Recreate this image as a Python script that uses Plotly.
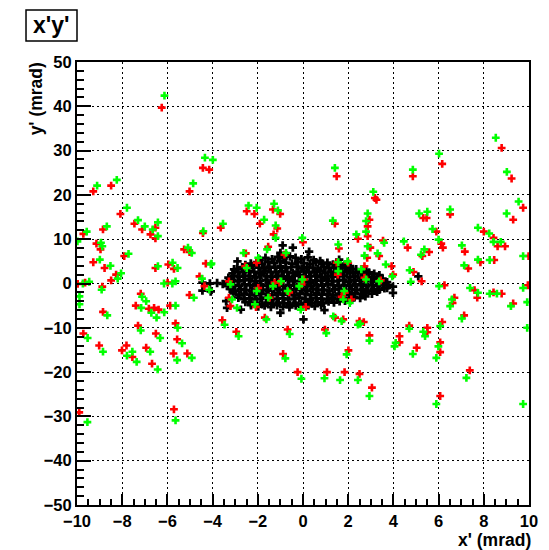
import plotly.graph_objects as go

# Beam divergence distribution x' vs y' (mrad)
x_ticks = [-10, -8, -6, -4, -2, 0, 2, 4, 6, 8, 10]
y_ticks = [-50, -40, -30, -20, -10, 0, 10, 20, 30, 40, 50]

# Core beam (black)
black_points = [
    (-1.92, 5.4), (-1.66, 5.8), (-1.37, 5.5), (-1.12, 6.0), (-0.86, 5.7), (-0.58, 6.1), (-0.33, 5.8), (-0.07, 5.5),
    (0.21, 5.9), (0.47, 5.3), (0.76, 5.1),
    (-2.55, 4.2), (-2.31, 4.5), (-2.04, 4.8), (-1.80, 4.4), (-1.54, 4.9), (-1.27, 4.6), (-1.01, 5.0), (-0.75, 4.7),
    (-0.49, 4.5), (-0.22, 4.9), (0.04, 4.6), (0.30, 4.4), (0.56, 4.8), (0.83, 4.5), (1.08, 4.7), (1.33, 4.3),
    (1.59, 4.5), (1.84, 4.1), (2.08, 3.9),
    (-2.92, 3.3), (-2.69, 3.7), (-2.44, 3.5), (-2.21, 3.9), (-1.96, 3.6), (-1.72, 3.4), (-1.49, 3.8), (-1.24, 3.6),
    (-1.00, 3.9), (-0.77, 3.5), (-0.52, 3.7), (-0.28, 3.8), (-0.05, 3.4), (0.19, 3.7), (0.43, 3.6), (0.66, 3.3),
    (0.91, 3.8), (1.14, 3.5), (1.39, 3.6), (1.62, 3.7), (1.87, 3.4), (2.10, 3.5), (2.35, 3.2), (2.58, 3.1), (2.80, 2.9),
    (-3.12, 2.3), (-2.87, 2.7), (-2.64, 2.5), (-2.39, 2.8), (-2.16, 2.6), (-1.90, 2.4), (-1.67, 2.9), (-1.43, 2.6),
    (-1.18, 2.5), (-0.94, 2.8), (-0.70, 2.6), (-0.45, 2.4), (-0.22, 2.7), (0.03, 2.9), (0.27, 2.5), (0.51, 2.6),
    (0.75, 2.8), (0.99, 2.4), (1.23, 2.7), (1.48, 2.5), (1.71, 2.6), (1.96, 2.8), (2.20, 2.4), (2.44, 2.6),
    (2.67, 2.3), (2.92, 2.5), (3.15, 2.2), (3.38, 1.9),
    (-3.30, 1.3), (-3.06, 1.7), (-2.81, 1.5), (-2.57, 1.8), (-2.33, 1.6), (-2.08, 1.4), (-1.84, 1.9), (-1.59, 1.6),
    (-1.35, 1.5), (-1.10, 1.8), (-0.86, 1.6), (-0.62, 1.4), (-0.37, 1.7), (-0.13, 1.9), (0.12, 1.5), (0.36, 1.6),
    (0.61, 1.8), (0.85, 1.4), (1.10, 1.7), (1.34, 1.5), (1.59, 1.6), (1.83, 1.8), (2.08, 1.4), (2.32, 1.6),
    (2.57, 1.3), (2.81, 1.5), (3.06, 1.2), (3.30, 1.4), (3.52, 1.1),
    (-3.36, 0.4), (-3.12, 0.8), (-2.88, 0.5), (-2.63, 0.7), (-2.39, 0.9), (-2.14, 0.5), (-1.90, 0.6), (-1.65, 0.8),
    (-1.41, 0.4), (-1.16, 0.7), (-0.92, 0.6), (-0.67, 0.9), (-0.43, 0.5), (-0.18, 0.6), (0.06, 0.8), (0.31, 0.4),
    (0.55, 0.7), (0.80, 0.6), (1.04, 0.9), (1.29, 0.5), (1.53, 0.6), (1.78, 0.8), (2.02, 0.4), (2.27, 0.7),
    (2.51, 0.6), (2.76, 0.5), (3.00, 0.8), (3.25, 0.4), (3.49, 0.6), (3.72, 0.3),
    (-3.32, -0.6), (-3.07, -0.3), (-2.83, -0.5), (-2.58, -0.2), (-2.34, -0.4), (-2.09, -0.6), (-1.85, -0.3),
    (-1.60, -0.5), (-1.36, -0.2), (-1.11, -0.4), (-0.87, -0.6), (-0.62, -0.3), (-0.38, -0.5), (-0.13, -0.2),
    (0.11, -0.4), (0.36, -0.6), (0.60, -0.3), (0.85, -0.5), (1.09, -0.2), (1.34, -0.4), (1.58, -0.6), (1.83, -0.3),
    (2.07, -0.5), (2.32, -0.2), (2.56, -0.4), (2.81, -0.6), (3.05, -0.3), (3.30, -0.5), (3.54, -0.2), (3.78, -0.4),
    (3.98, -0.7),
    (-3.24, -1.2), (-3.00, -1.6), (-2.75, -1.3), (-2.51, -1.5), (-2.26, -1.7), (-2.02, -1.3), (-1.77, -1.4),
    (-1.53, -1.6), (-1.28, -1.2), (-1.04, -1.5), (-0.79, -1.4), (-0.55, -1.7), (-0.30, -1.3), (-0.06, -1.4),
    (0.19, -1.6), (0.43, -1.2), (0.68, -1.5), (0.92, -1.4), (1.17, -1.7), (1.41, -1.3), (1.66, -1.4), (1.90, -1.6),
    (2.15, -1.2), (2.39, -1.5), (2.64, -1.3), (2.88, -1.6), (3.13, -1.2), (3.37, -1.4), (3.60, -1.1),
    (-3.08, -2.2), (-2.83, -2.6), (-2.59, -2.3), (-2.34, -2.5), (-2.10, -2.7), (-1.85, -2.3), (-1.61, -2.4),
    (-1.36, -2.6), (-1.12, -2.2), (-0.87, -2.5), (-0.63, -2.4), (-0.38, -2.7), (-0.14, -2.3), (0.11, -2.4),
    (0.35, -2.6), (0.60, -2.2), (0.84, -2.5), (1.09, -2.4), (1.33, -2.7), (1.58, -2.3), (1.82, -2.4), (2.07, -2.6),
    (2.31, -2.2), (2.56, -2.4), (2.80, -2.1), (3.05, -2.3), (3.28, -1.9),
    (-2.86, -3.2), (-2.62, -3.5), (-2.37, -3.3), (-2.13, -3.6), (-1.88, -3.4), (-1.64, -3.2), (-1.39, -3.6),
    (-1.15, -3.4), (-0.90, -3.3), (-0.66, -3.6), (-0.41, -3.4), (-0.17, -3.2), (0.08, -3.5), (0.32, -3.7),
    (0.57, -3.3), (0.81, -3.4), (1.06, -3.6), (1.30, -3.2), (1.55, -3.5), (1.79, -3.3), (2.04, -3.4), (2.28, -3.1),
    (2.53, -3.3), (2.76, -2.9),
    (-2.55, -4.2), (-2.30, -4.5), (-2.06, -4.3), (-1.81, -4.7), (-1.57, -4.4), (-1.32, -4.6), (-1.08, -4.3),
    (-0.83, -4.5), (-0.59, -4.8), (-0.34, -4.4), (-0.10, -4.6), (0.15, -4.3), (0.39, -4.5), (0.64, -4.2),
    (0.88, -4.4), (1.13, -4.1), (1.37, -4.3), (1.62, -4.0), (1.86, -3.9), (2.10, -3.8),
    (-2.30, -4.9), (-1.98, -5.2), (-1.70, -5.0), (-1.42, -5.3), (-1.15, -4.9), (-0.88, -5.2), (-0.60, -5.4),
    (-0.32, -5.0), (-0.05, -5.2), (0.24, -4.9), (0.52, -5.1), (0.80, -4.8),
    (-0.90, 8.6), (-0.45, 8.1), (0.27, 7.2), (-2.90, 5.0), (-1.00, 6.9), (-0.75, 6.4), (-4.45, 0.2), (-4.12, 0.0),
    (-3.80, 0.1), (-3.55, -0.1), (-4.45, -1.6), (-4.08, -1.8), (-1.00, -6.6), (0.02, -8.1), (-2.75, -5.9),
    (-3.36, -5.5), (3.98, -2.1), (3.72, -1.0), (5.10, 1.6), (0.95, -6.0), (-3.40, -4.0), (1.60, 5.4), (-3.05, 3.2),
]

# Red population
red_points = [
    (-6.25, 39.7),
    (-4.43, 26.1), (-4.15, 25.7), (-9.28, 20.8), (-8.49, 22.1), (-5.02, 20.8), (-8.08, 15.7), (-2.49, 16.3),
    (-2.15, 15.7), (-1.33, 16.7), (-1.01, 15.7), (-1.91, 13.5), (-1.14, 12.4), (1.41, 13.5), (1.49, 24.2),
    (-7.46, 13.5), (-7.12, 12.2), (-6.53, 12.6), (-6.75, 11.1), (-6.53, 10.2), (-8.85, 12.2), (-9.72, 11.2),
    (-9.14, 9.0), (-8.96, 7.7), (-9.28, 4.8), (-8.78, 3.5), (-7.91, 6.2), (-8.27, 2.0), (-8.49, 0.7), (-9.97, -0.1),
    (-9.64, 0.2), (-8.88, -0.7), (-6.53, 3.5), (-5.96, 4.3), (-5.71, 3.3), (-5.26, 7.7), (-5.02, 7.1), (-4.43, 11.4),
    (-4.30, 4.5), (-4.58, 1.6), (-3.64, 12.6), (-5.99, 0.2), (-7.18, -2.3), (-7.40, -5.0), (-6.82, -5.7),
    (-6.59, -5.5), (-6.39, -5.9), (-5.88, -5.0), (-5.02, -2.6), (-8.85, -6.4), (-2.53, 6.8),
    (-9.72, -11.3), (-7.30, -9.5), (-6.51, -11.3), (-5.64, -9.0), (-5.57, -12.6), (-9.02, -14.0), (-8.01, -15.1),
    (-7.81, -14.0), (-7.55, -16.6), (-6.94, -14.5), (-6.68, -18.1), (-5.73, -15.8), (-5.12, -15.8), (-9.90, -29.1),
    (-5.71, -28.4), (-3.57, -8.3), (-2.95, -10.9),
    (-0.68, -10.4), (0.97, -10.4), (-0.88, -15.9), (2.01, -15.1), (-0.24, -20.0), (1.06, -20.0), (1.84, -20.0),
    (2.50, -20.4),
    (2.69, -8.7), (2.94, -11.7), (4.70, -9.5), (5.50, -10.0), (5.50, -11.0), (4.27, -11.9), (4.27, -13.3),
    (5.03, -14.5), (6.16, -8.7), (6.07, -13.3), (6.07, -15.5), (7.13, -7.2), (9.30, -4.5), (6.62, -4.4),
    (7.38, -19.6), (3.05, -23.5), (6.07, -25.4),
    (8.79, 30.6), (6.16, 27.0), (4.86, 24.2), (9.23, 23.7), (3.18, 19.3), (3.25, 18.9), (9.74, 17.1), (5.32, 14.8),
    (5.47, 14.8), (6.51, 15.6), (9.30, 14.4), (2.94, 14.4), (2.86, 12.9), (5.90, 11.7), (8.00, 11.7), (8.43, 10.3),
    (2.86, 10.7), (2.43, 10.1), (4.63, 8.1), (6.12, 9.0), (6.19, 8.1), (7.16, 7.2), (8.61, 8.4), (8.94, 8.4),
    (2.98, 8.1), (3.54, 9.7), (5.58, 7.1), (5.28, 6.2), (2.84, 5.8), (3.37, 6.2), (7.85, 4.8), (8.46, 5.3),
    (9.98, 6.2), (7.31, 3.4), (3.92, 3.9), (4.89, 2.6), (5.25, 0.5), (6.26, -0.4), (7.59, -1.5), (7.71, -3.2),
    (8.43, -2.0), (8.79, -2.3), (9.95, -0.4), (6.70, -3.2),
    (-1.30, 11.1), (0.00, 9.3), (-1.54, 8.3), (-0.82, 6.5), (1.59, 7.9), (2.00, 4.7), (1.49, 4.7), (-2.05, 4.7),
    (-2.56, 3.9), (-4.36, -0.6), (-3.28, 0.5), (-1.04, 0.2), (-1.26, 0.2), (0.04, 0.9), (-0.06, -0.2),
    (-0.61, -2.0), (-1.98, -1.0), (-1.48, -3.2), (-3.28, -3.2), (-3.21, -5.1), (-2.08, -5.3), (0.12, -5.3),
    (1.85, -2.1), (1.71, -3.0), (2.14, -3.6), (2.72, 1.3), (3.44, 0.7), (1.54, 2.0), (2.72, 3.9), (3.99, 2.0),
    (1.42, -7.7), (1.78, -8.1), (2.50, -8.5), (-1.69, -7.7),
]

# Green population
green_points = [
    (-6.13, 42.4),
    (-4.34, 28.4), (-3.99, 27.9), (-9.11, 22.1), (-8.24, 23.4), (-4.86, 22.6), (-7.79, 17.1), (-2.41, 17.6),
    (-2.05, 17.1), (-1.28, 18.0), (-1.11, 16.5), (-1.72, 14.4), (-1.21, 13.1), (1.32, 14.2), (1.41, 26.1),
    (-7.30, 14.3), (-7.00, 12.9), (-6.42, 13.8), (-6.65, 12.2), (-6.42, 10.7), (-8.68, 12.9), (-9.57, 11.7),
    (-9.98, 9.5), (-8.94, 9.2), (-8.88, 8.4), (-8.99, 5.4), (-8.52, 4.0), (-7.72, 6.7), (-8.05, 2.3), (-8.20, 1.1),
    (-9.74, 0.0), (-9.46, 0.4), (-8.91, -1.4), (-6.42, 3.9), (-5.77, 4.7), (-5.55, 3.5), (-5.09, 8.1), (-4.92, 6.9),
    (-4.41, 11.8), (-4.05, 4.5), (-4.47, 1.1), (-3.54, 13.5), (-6.15, 0.0), (-5.78, 0.0), (-5.64, 0.5),
    (-7.12, -3.0), (-6.94, -4.0), (-7.16, -5.5), (-6.71, -6.6), (-6.48, -7.7), (-6.14, -6.5), (-5.64, -5.0),
    (-4.83, -3.2), (-8.66, -7.2), (-9.89, -2.9), (-9.89, -4.7), (-2.63, 6.9),
    (-9.53, -12.3), (-7.18, -10.6), (-6.32, -12.3), (-5.55, -10.0), (-5.35, -13.5), (-8.85, -15.4), (-7.79, -16.3),
    (-7.55, -15.4), (-7.36, -17.7), (-6.76, -15.4), (-6.43, -19.4), (-5.57, -17.3), (-4.92, -16.8), (-9.54, -31.3),
    (-5.64, -30.9), (-3.47, -9.3), (-2.85, -11.9),
    (-0.59, -11.4), (1.03, -11.2), (-0.78, -16.9), (1.93, -16.0), (-0.07, -21.5), (0.95, -21.4), (1.64, -21.8),
    (2.43, -21.8),
    (2.53, -9.1), (2.94, -12.9), (4.70, -10.2), (5.32, -10.9), (5.40, -11.9), (4.10, -13.4), (4.05, -14.2),
    (4.86, -15.9), (6.07, -9.6), (5.99, -14.2), (5.90, -16.8), (7.03, -7.9), (9.20, -5.1), (9.92, -4.2),
    (9.92, -10.0), (6.51, -5.1), (7.23, -21.3), (2.94, -25.4), (5.90, -27.2), (9.74, -27.2),
    (8.53, 32.9), (6.02, 29.3), (4.86, 25.7), (9.02, 25.2), (3.11, 20.7), (9.54, 18.5), (5.14, 15.8), (5.50, 16.2),
    (6.51, 16.7), (9.01, 15.8), (2.86, 15.8), (2.79, 14.1), (5.73, 12.3), (7.74, 12.6), (8.24, 11.3), (2.79, 11.7),
    (2.36, 11.1), (4.46, 9.5), (6.00, 9.9), (7.03, 8.6), (8.43, 9.4), (8.75, 9.4), (2.86, 8.4), (3.59, 9.2),
    (5.37, 7.7), (5.22, 6.5), (2.72, 6.3), (3.30, 6.8), (7.74, 5.4), (8.26, 5.3), (9.74, 6.2), (7.13, 4.1),
    (3.66, 4.3), (4.72, 3.0), (4.77, 0.4), (6.02, -0.6), (7.39, -1.0), (7.74, -2.1), (8.26, -2.3), (8.58, -2.3),
    (9.74, -1.0), (6.59, -3.6),
    (-1.21, 10.3), (-0.03, 10.3), (-1.59, 7.7), (-0.75, 6.9), (1.56, 8.8), (1.97, 5.0), (1.56, 4.8), (-1.98, 5.8),
    (-2.49, 3.5), (-4.08, 4.3), (-4.15, -1.4), (-3.21, -0.2), (-0.97, 0.5), (-1.33, -0.6), (-0.03, 0.9),
    (-0.17, -0.6), (-0.68, -1.7), (-2.05, -1.7), (-1.54, -3.2), (-3.14, -3.6), (-2.92, -5.5), (-2.13, -4.7),
    (-0.10, -5.9), (1.82, -1.7), (1.78, -3.6), (2.07, -4.4), (2.79, 0.9), (3.37, 0.5), (1.56, 2.8), (2.58, 3.2),
    (3.95, 1.6), (1.34, -7.4), (1.71, -8.5), (2.43, -9.3), (-1.62, -8.1),
]

black_x = [p[0] for p in black_points]
black_y = [p[1] for p in black_points]
red_x = [p[0] for p in red_points]
red_y = [p[1] for p in red_points]
green_x = [p[0] for p in green_points]
green_y = [p[1] for p in green_points]

fig = go.Figure()
for xs, ys, col, sz in [(black_x, black_y, "#000000", 7),
                        (red_x, red_y, "#ff0000", 6.5),
                        (green_x, green_y, "#00ff00", 6.5)]:
    fig.add_trace(go.Scatter(
        x=xs, y=ys, mode="markers",
        marker=dict(symbol="cross", size=sz, color=col, line=dict(width=0)),
        showlegend=False, hoverinfo="skip",
    ))

tick_font = dict(family="Liberation Sans, Arial, sans-serif", size=16.5, color="black", weight="bold")
grid_style = dict(showgrid=True, gridcolor="black", gridwidth=1, griddash="2px,3px")

fig.update_xaxes(
    range=[-10, 10], tickvals=x_ticks, ticks="inside", ticklen=11, tickwidth=1.5, tickcolor="black",
    minor=dict(ticks="inside", ticklen=6, dtick=0.5, tick0=-10, tickwidth=1.5, tickcolor="black", showgrid=False),
    showline=True, linecolor="black", linewidth=2, mirror=True, zeroline=False,
    tickfont=tick_font, **grid_style,
)
fig.update_yaxes(
    range=[-50, 50], tickvals=y_ticks, ticks="inside", ticklen=14, tickwidth=1.5, tickcolor="black",
    minor=dict(ticks="inside", ticklen=7, dtick=2, tick0=-50, tickwidth=1.5, tickcolor="black", showgrid=False),
    showline=True, linecolor="black", linewidth=2, mirror=True, zeroline=False,
    tickfont=tick_font, **grid_style,
)

title_font = dict(family="Liberation Sans, Arial, sans-serif", size=17.5, color="black", weight="bold")

# Frame box around the histogram name, top-left
fig.add_shape(type="rect", xref="paper", yref="paper",
              x0=-0.1128, x1=0.0, y0=1.0474, y1=1.1174,
              line=dict(color="black", width=1.5), fillcolor="white", layer="above")

fig.update_layout(
    width=549, height=550,
    margin=dict(l=77, r=11, t=62, b=45),
    paper_bgcolor="white", plot_bgcolor="white",
    annotations=[
        dict(text="x' (mrad)", xref="paper", yref="paper", x=1.0, y=-0.105, xshift=4,
             xanchor="right", yanchor="bottom", showarrow=False, font=title_font),
        dict(text="y' (mrad)", xref="paper", yref="paper", x=-0.091, y=1.0, yshift=2,
             xanchor="center", yanchor="top", textangle=-90, showarrow=False, font=title_font),
        dict(text="x'y'", xref="paper", yref="paper", x=-0.0564, y=1.0824,
             xanchor="center", yanchor="middle", showarrow=False,
             font=dict(family="Liberation Sans, Arial, sans-serif", size=23, color="black", weight="bold")),
    ],
)

fig.write_html("out.html")
